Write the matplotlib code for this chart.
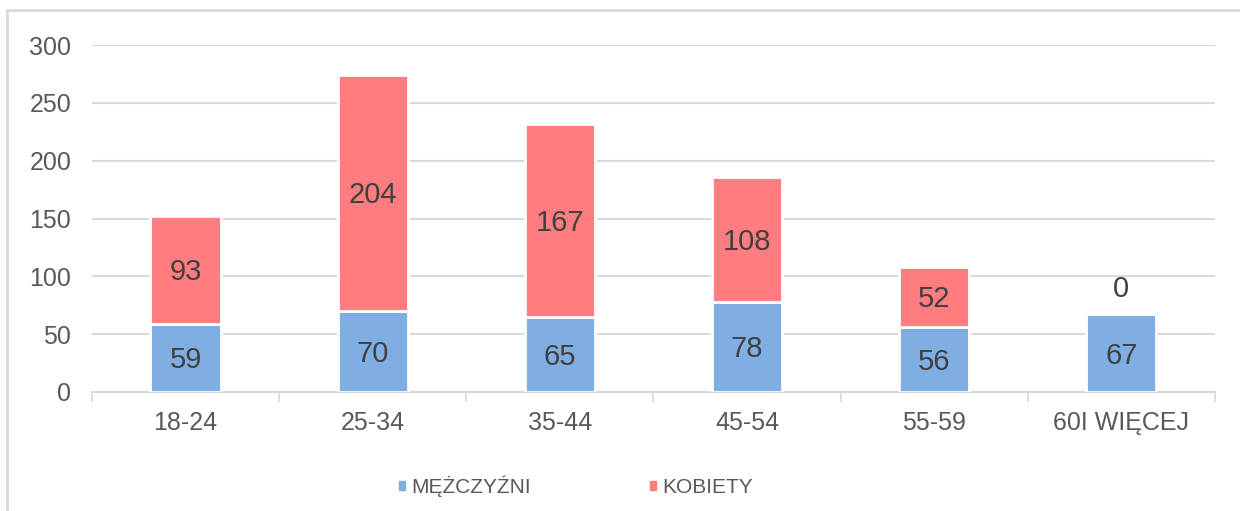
import matplotlib.pyplot as plt
import numpy as np
from matplotlib.patches import Patch, Rectangle

plt.rcParams['font.family'] = ['Liberation Sans', 'DejaVu Sans']

# dane
categories = ['18-24', '25-34', '35-44', '45-54', '55-59', '60I WIĘCEJ']
mezczyzni = [59, 70, 65, 78, 56, 67]
kobiety = [93, 204, 167, 108, 52, 0]

blue = '#7EAEE2'
red = '#FF7C80'
grid_c = '#D9D9D9'
tick_c = '#595959'
label_c = '#404040'

fig = plt.figure(figsize=(12.4, 5.11), dpi=100)
ax = fig.add_axes([0.0742, 0.2329, 0.9056, 0.679])

x = np.arange(len(categories))
w = 0.375
b1 = ax.bar(x, mezczyzni, w, color=blue, edgecolor='white', linewidth=2, zorder=3)
b2 = ax.bar(x, kobiety, w, bottom=mezczyzni, color=red, edgecolor='white', linewidth=2, zorder=3)

# etykiety
for rect, v in zip(b1, mezczyzni):
    ax.text(rect.get_x() + rect.get_width() / 2, v / 2 - 2, str(v), ha='center', va='center',
            fontsize=21, color=label_c, zorder=4)
for rect, v, base in zip(b2, kobiety, mezczyzni):
    cx = rect.get_x() + rect.get_width() / 2
    if v == 0:
        ax.annotate(str(v), (cx, base), xytext=(0, 18), textcoords='offset points',
                    ha='center', va='center', fontsize=21, color=label_c)
    else:
        ax.text(cx, base + v / 2 - 2, str(v), ha='center', va='center',
                fontsize=21, color=label_c, zorder=4)

ax.set_xlim(-0.5, len(categories) - 0.5)
ax.set_ylim(0, 300)
ax.set_yticks(range(0, 301, 50))
ax.yaxis.grid(True, color=grid_c, linewidth=1.5, zorder=0)
ax.set_axisbelow(True)

ax.set_xticks(x)
ax.set_xticklabels(categories)
ax.set_xticks(np.arange(-0.5, len(categories)), minor=True)
ax.tick_params(axis='x', which='major', length=0, pad=14, labelsize=18, labelcolor=tick_c)
ax.tick_params(axis='x', which='minor', length=7, width=1.2, color=grid_c)
ax.tick_params(axis='y', length=0, pad=15, labelsize=18, labelcolor=tick_c)

for s in ['top', 'right', 'left']:
    ax.spines[s].set_visible(False)
ax.spines['bottom'].set_color(grid_c)
ax.spines['bottom'].set_linewidth(1.5)

handles = [Patch(color=blue, label='MĘŻCZYŹNI'), Patch(color=red, label='KOBIETY')]
leg = fig.legend(handles=handles, loc='center', bbox_to_anchor=(0.4645, 0.049), ncol=2,
                 frameon=False, fontsize=15, handlelength=0.3, handleheight=0.3,
                 handletextpad=0.3, columnspacing=5.7)
for t in leg.get_texts():
    t.set_color(tick_c)

# ramka
fig.patches.append(Rectangle((7 / 1240, -0.01), 1.0, 1 - 10 / 511 + 0.01, transform=fig.transFigure,
                             fill=False, edgecolor=grid_c, linewidth=2))

fig.savefig('out.png', dpi=100)
